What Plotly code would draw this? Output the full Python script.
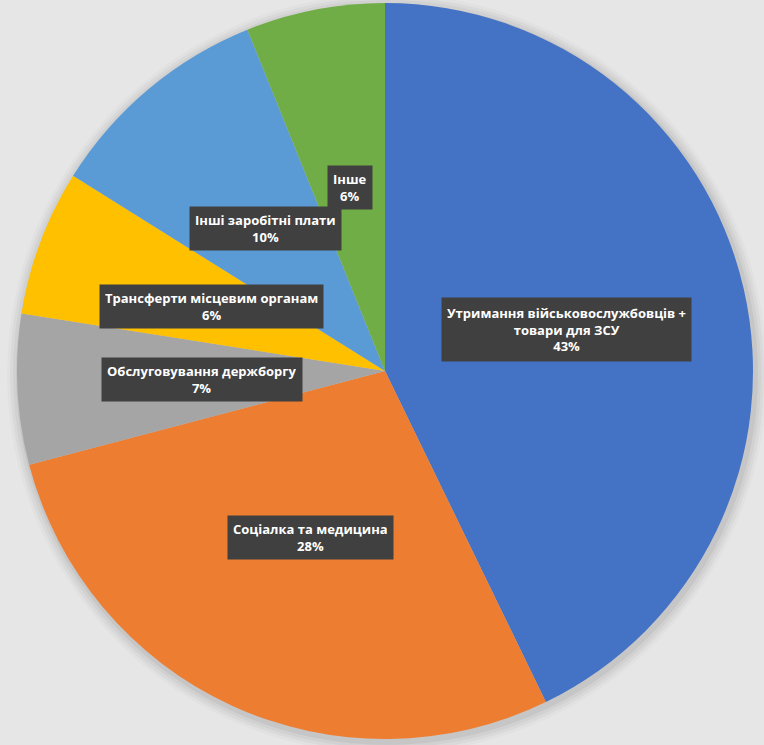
import plotly.graph_objects as go

# slices, clockwise from 12 o'clock
categories = [
    "Утримання військовослужбовців +<br>товари для ЗСУ",
    "Соціалка та медицина",
    "Обслуговування держборгу",
    "Трансферти місцевим органам",
    "Інші заробітні плати",
    "Інше",
]
shares = [42.8, 28.1, 6.6, 6.4, 10.0, 6.1]
colors = ["#4472C4", "#ED7D31", "#A5A5A5", "#FFC000", "#5B9BD5", "#70AD47"]

# where the dark label boxes sit (paper coords)
label_x = [0.741, 0.406, 0.264, 0.277, 0.348, 0.458]
label_y = [0.558, 0.278, 0.490, 0.589, 0.693, 0.748]

W, H = 764, 745

def main():
    fig = go.Figure()
    fig.add_trace(go.Pie(
        labels=categories,
        values=shares,
        sort=False,
        direction="clockwise",
        rotation=0,
        marker=dict(colors=colors, line=dict(width=0)),
        textinfo="none",
        hoverinfo="label+percent",
        showlegend=False,
        domain=dict(x=[17 / W, 753 / W], y=[1 - 739 / H, 1 - 3 / H]),
    ))

    # soft shadow ring around the pie
    cx, cy, r = 385, 371, 368
    for i, a in enumerate([0.05, 0.04, 0.03, 0.02]):
        d = 3 + i * 3
        fig.add_shape(type="circle", xref="paper", yref="paper", layer="below",
                      x0=(cx - r - d + 2) / W, x1=(cx + r + d + 2) / W,
                      y0=1 - (cy + r + d + 3) / H, y1=1 - (cy - r - d + 3) / H,
                      fillcolor="rgba(0,0,0,%s)" % a, line=dict(width=0))

    total = sum(shares)
    for name, v, x, y in zip(categories, shares, label_x, label_y):
        pct = round(v / total * 100)
        nlines = name.count("<br>") + 2
        fig.add_annotation(
            x=x, y=y, xref="paper", yref="paper",
            xanchor="center", yanchor="middle",
            text="<b>%s<br>%d%%</b>" % (name, pct),
            showarrow=False,
            font=dict(family="Open Sans", size=13, color="white"),
            bgcolor="#404040",
            borderpad=5,
            height=33 if nlines == 2 else 53,
            valign="middle",
            align="center",
        )

    fig.update_layout(
        width=W, height=H,
        margin={"r": 0, "t": 0, "l": 0, "b": 0},
        paper_bgcolor="#e6e6e6",
        plot_bgcolor="#e6e6e6",
    )
    fig.write_html("out.html", config={"displayModeBar": False},
                   post_script="document.body.style.margin='0';")


if __name__ == "__main__":
    main()
